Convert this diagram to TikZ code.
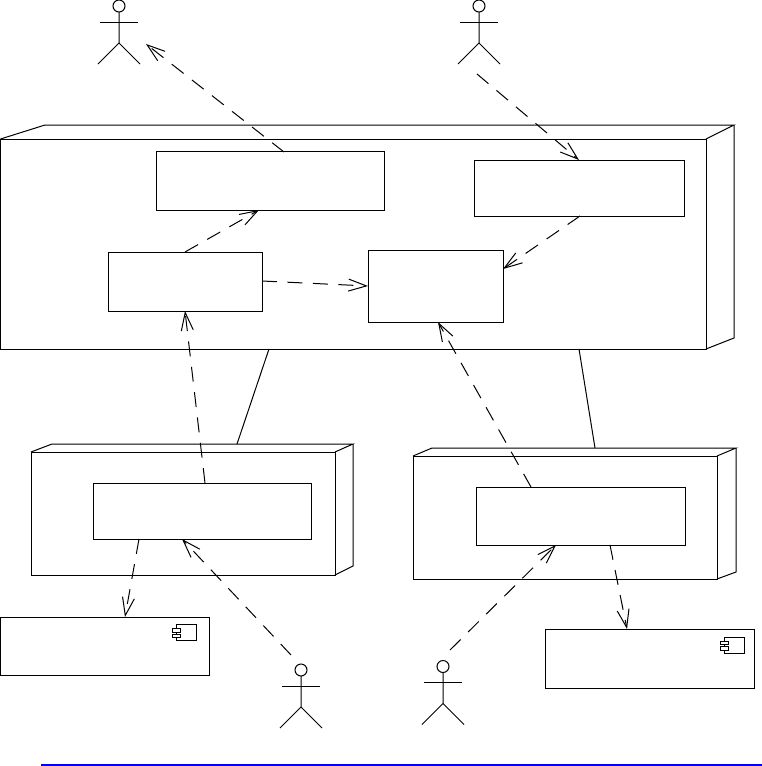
\documentclass[tikz,border=0pt]{standalone}
\usetikzlibrary{arrows.meta,calc}
\tikzset{
  x=1pt,y=-1pt,
  umlbox/.style={draw,rectangle,inner sep=0pt,outer sep=0pt},
  head/.style={draw,circle,inner sep=0pt,outer sep=0pt,minimum size=12pt},
  dep/.style={draw,dash pattern=on 15pt off 10.5pt,-{Straight Barb[length=18pt,width=12pt,line width=1pt]}},
  assoc/.style={draw}
}
\newcommand{\umlrect}[5]{%
  \pgfmathsetmacro{\cxx}{(#2+#4)/2}\pgfmathsetmacro{\cyy}{(#3+#5)/2}%
  \pgfmathsetmacro{\ww}{#4-#2}\pgfmathsetmacro{\hh}{#5-#3}%
  \node[umlbox,minimum width=\ww pt,minimum height=\hh pt] (#1) at (\cxx,\cyy) {};}
\newcommand{\umlactor}[3]{%
  \node[head] (#1) at (#2,#3) {};
  \draw (#1.south) -- (#2,#3+37) -- (#2-21,#3+58);
  \draw (#2,#3+37) -- (#2+21,#3+58);
  \draw (#2-19,#3+16) -- (#2+19,#3+16);}
\newcommand{\umlnode}[9]{% name, front x1 y1 x2 y2, back x1 y1 x2 y2
  \umlrect{#1}{#2}{#3}{#4}{#5}
  \draw (#1.north west) -- (#6,#7) -- (#8,#7) -- (#1.north east);
  \draw (#8,#7) -- (#8,#9) -- (#1.south east);}
\newcommand{\umlicon}[3]{% name, x, y of the top left corner of the body
  \node[umlbox,minimum width=20pt,minimum height=16pt,anchor=north west] (#1) at (#2,#3) {};
  \node[umlbox,fill=white,minimum width=8pt,minimum height=3.5pt,anchor=north west] (#1t) at (#2-4,#3+4) {};
  \node[umlbox,fill=white,minimum width=8pt,minimum height=3.5pt,anchor=north west] (#1b) at (#2-4,#3+9.5) {};}
\begin{document}
\begin{tikzpicture}[line width=1pt]
\useasboundingbox (0,0) rectangle (762,766);
% deployment nodes
\umlnode{main}{0.5}{139}{706}{349}{45}{125}{734}{338}
\umlnode{left}{31}{452}{335}{575}{52}{444}{353}{566}
\umlnode{right}{413}{456}{717}{579}{432}{448}{736}{572}
% inner boxes
\umlrect{a}{156.5}{151.5}{384}{210}
\umlrect{b}{474}{160}{684}{216}
\umlrect{c}{108}{252}{262}{311}
\umlrect{d}{368}{250}{503}{322}
\umlrect{li}{93}{483}{311}{539}
\umlrect{ri}{476}{487}{685}{545}
% components
\umlrect{cl}{0.5}{617}{209.5}{675}
\umlicon{icl}{176.5}{624.5}
\umlrect{cr}{545}{629}{754}{688}
\umlicon{icr}{724}{637}
% actors
\umlactor{ua}{119}{6}
\umlactor{ub}{479}{6}
\umlactor{uc}{301}{670}
\umlactor{ud}{443}{666.5}
% connector end points
\coordinate (a1) at (284,152);
\coordinate (ua1) at (146,44);
\coordinate (ub1) at (477,74);
\coordinate (b1) at (579,160);
\coordinate (b2) at (580,216);
\coordinate (d1) at (503,269);
\coordinate (c1) at (262,281);
\coordinate (d2) at (368,286);
\coordinate (c2) at (185,252);
\coordinate (a2) at (259,210);
\coordinate (li1) at (205,483);
\coordinate (c3) at (185,311);
\coordinate (ri1) at (531,487);
\coordinate (d3) at (438,322);
\coordinate (li2) at (139,539);
\coordinate (cl1) at (125,617);
\coordinate (uc1) at (291,655);
\coordinate (li3) at (182,539);
\coordinate (ud1) at (450,650);
\coordinate (ri2) at (556,545);
\coordinate (ri3) at (610,545);
\coordinate (cr1) at (627,629);
\coordinate (m1) at (269,349);
\coordinate (l1) at (237,444);
\coordinate (m2) at (579,349);
\coordinate (r1) at (595,448);
% connectors
\draw[dep] (a1) -- (ua1);
\draw[dep] (ub1) -- (b1);
\draw[dep] (b2) -- (d1);
\draw[dep] (c1) -- (d2);
\draw[dep] (c2) -- (a2);
\draw[dep] (li1) -- (c3);
\draw[dep] (ri1) -- (d3);
\draw[dep] (li2) -- (cl1);
\draw[dep] (uc1) -- (li3);
\draw[dep] (ud1) -- (ri2);
\draw[dep] (ri3) -- (cr1);
\draw[assoc] (m1) -- (l1);
\draw[assoc] (m2) -- (r1);
% rule at the foot
\coordinate (ruleA) at (41,765);
\coordinate (ruleB) at (762,765);
\draw[draw=blue,line width=2pt] (ruleA) -- (ruleB);
\end{tikzpicture}
\end{document}
